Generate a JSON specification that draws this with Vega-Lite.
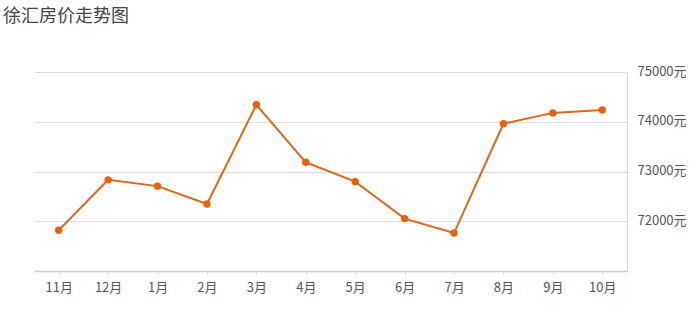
{
  "$schema": "https://vega.github.io/schema/vega-lite/v6.json",
  "autosize": {"type": "none"},
  "width": 593,
  "height": 199,
  "padding": {"left": 34, "top": 72, "right": 64, "bottom": 56},
  "background": "white",
  "title": {
    "text": "徐汇房价走势图",
    "anchor": "start",
    "frame": "group",
    "dx": -31,
    "offset": 39,
    "fontSize": 18,
    "fontWeight": "normal",
    "font": "Noto Sans CJK SC",
    "color": "#444444"
  },
  "config": {
    "view": {"stroke": null},
    "font": "Noto Sans CJK SC"
  },
  "data": {
    "values": [
      {"month": "11月", "price": 71818},
      {"month": "12月", "price": 72832},
      {"month": "1月", "price": 72706},
      {"month": "2月", "price": 72347},
      {"month": "3月", "price": 74341},
      {"month": "4月", "price": 73185},
      {"month": "5月", "price": 72796},
      {"month": "6月", "price": 72053},
      {"month": "7月", "price": 71763},
      {"month": "8月", "price": 73960},
      {"month": "9月", "price": 74178},
      {"month": "10月", "price": 74237}
    ]
  },
  "encoding": {
    "x": {
      "field": "month",
      "type": "nominal",
      "sort": null,
      "scale": {"type": "point", "padding": 0.5},
      "axis": {
        "title": null,
        "labelAngle": 0,
        "labelFontSize": 13,
        "labelColor": "#555555",
        "labelPadding": 7,
        "domainColor": "#cccccc",
        "domainWidth": 1.5,
        "tickColor": "#dddddd",
        "tickSize": 3,
        "grid": false
      }
    },
    "y": {
      "field": "price",
      "type": "quantitative",
      "scale": {"domain": [71000, 75000], "nice": false, "zero": false},
      "axis": {
        "orient": "right",
        "title": null,
        "values": [72000, 73000, 74000, 75000],
        "labelExpr": "datum.value + '元'",
        "labelFontSize": 13,
        "labelColor": "#555555",
        "labelPadding": 10,
        "labelOffset": -1,
        "ticks": false,
        "domain": true,
        "domainColor": "#d4d4d4",
        "grid": true,
        "gridColor": "#dddddd",
        "gridWidth": 1
      }
    }
  },
  "layer": [
    {"mark": {"type": "line", "color": "#D9691F", "strokeWidth": 2}},
    {"mark": {"type": "point", "filled": true, "color": "#E8620E", "size": 55, "opacity": 1}}
  ]
}
